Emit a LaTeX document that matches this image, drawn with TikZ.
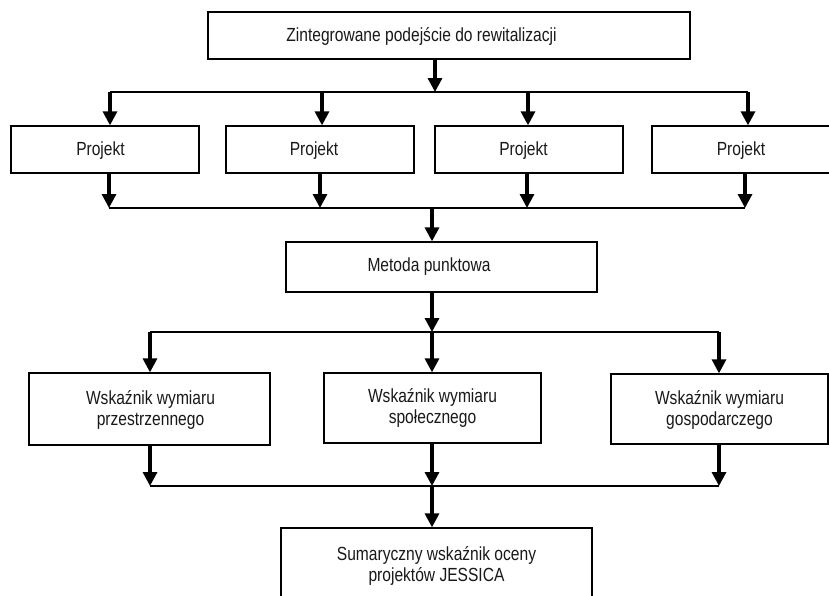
\documentclass[tikz,border=0pt]{standalone}
\usepackage{fontspec}
\setmainfont{Liberation Sans}[FakeStretch=0.82]
\usetikzlibrary{arrows.meta}
\begin{document}
\begin{tikzpicture}[x=1pt,y=-1pt,
  box/.style={draw=black, line width=1.3pt, rectangle, inner sep=0pt},
  lbl/.style={font=\fontsize{19}{21}\selectfont, align=center, inner sep=0pt, anchor=base, text=black!90},
  hl/.style={line width=1.7pt},
  arr/.style={line width=3.2pt, -{Triangle[length=14pt,width=14pt]}}]
\clip (0,0) rectangle (829,595);
\fill[white] (0,0) rectangle (829,595);
% boxes
\node[box, minimum width=482pt, minimum height=47pt] (top) at (449,35.5) {};
\node[box, minimum width=188pt, minimum height=47pt] (p1) at (105,149.5) {};
\node[box, minimum width=188pt, minimum height=47pt] (p2) at (320,149.5) {};
\node[box, minimum width=188pt, minimum height=47pt] (p3) at (529,149.5) {};
\node[box, minimum width=208pt, minimum height=47pt] (p4) at (756,149.5) {};
\node[box, minimum width=311pt, minimum height=50pt] (met) at (441.5,267) {};
\node[box, minimum width=241pt, minimum height=72pt] (w1) at (149.5,409) {};
\node[box, minimum width=217pt, minimum height=70pt] (w2) at (432.5,408) {};
\node[box, minimum width=217pt, minimum height=70pt] (w3) at (719.5,409) {};
\node[box, minimum width=311pt, minimum height=92pt] (sum) at (436.5,574) {};
% texts (base anchor = baseline of the last line)
\node[lbl] (t0) at (421.5,41.7) {Zintegrowane podejście do rewitalizacji};
\node[lbl] (tp1) at (100.5,155.5) {Projekt};
\node[lbl] (tp2) at (314,155.5) {Projekt};
\node[lbl] (tp3) at (523.5,155.5) {Projekt};
\node[lbl] (tp4) at (741,155.5) {Projekt};
\node[lbl] (tm) at (429,271) {Metoda punktowa};
\node[lbl] (tw1) at (150.5,425) {Wskaźnik wymiaru\\przestrzennego};
\node[lbl] (tw2) at (432.5,423) {Wskaźnik wymiaru\\społecznego};
\node[lbl] (tw3) at (719.5,425.5) {Wskaźnik wymiaru\\gospodarczego};
\node[lbl] (ts) at (436.5,581) {Sumaryczny wskaźnik oceny\\projektów JESSICA};
% junctions
\coordinate (a0) at (435,92);
\coordinate (d1) at (110,92);
\coordinate (d2) at (322,92);
\coordinate (d3) at (528,92);
\coordinate (d4) at (748,92);
\coordinate (e0) at (432,208);
\coordinate (e1) at (109,208);
\coordinate (e2) at (320,208);
\coordinate (e3) at (527,208);
\coordinate (e4) at (745,208);
\coordinate (f0) at (432,332);
\coordinate (f1) at (150,332);
\coordinate (f3) at (719,332);
\coordinate (g0) at (432,486);
\coordinate (g1) at (150,486);
\coordinate (g3) at (719,486);
% horizontal lines
\draw[hl] (d1) -- (d4);
\draw[hl] (e1) -- (e4);
\draw[hl] (f1) -- (f3);
\draw[hl] (g1) -- (g3);
% arrows
\draw[arr] (top.south -| a0) -- (a0);
\draw[arr] (d1) -- (d1 |- p1.north);
\draw[arr] (d2) -- (d2 |- p2.north);
\draw[arr] (d3) -- (d3 |- p3.north);
\draw[arr] (d4) -- (d4 |- p4.north);
\draw[arr] (p1.south -| e1) -- (e1);
\draw[arr] (p2.south -| e2) -- (e2);
\draw[arr] (p3.south -| e3) -- (e3);
\draw[arr] (p4.south -| e4) -- (e4);
\draw[arr] (e0) -- (e0 |- met.north);
\draw[arr] (met.south -| f0) -- (f0);
\draw[arr] (f1) -- (f1 |- w1.north);
\draw[arr] (f0) -- (f0 |- w2.north);
\draw[arr] (f3) -- (f3 |- w3.north);
\draw[arr] (w1.south -| g1) -- (g1);
\draw[arr] (w2.south -| g0) -- (g0);
\draw[arr] (w3.south -| g3) -- (g3);
\draw[arr] (g0) -- (g0 |- sum.north);
\end{tikzpicture}
\end{document}
